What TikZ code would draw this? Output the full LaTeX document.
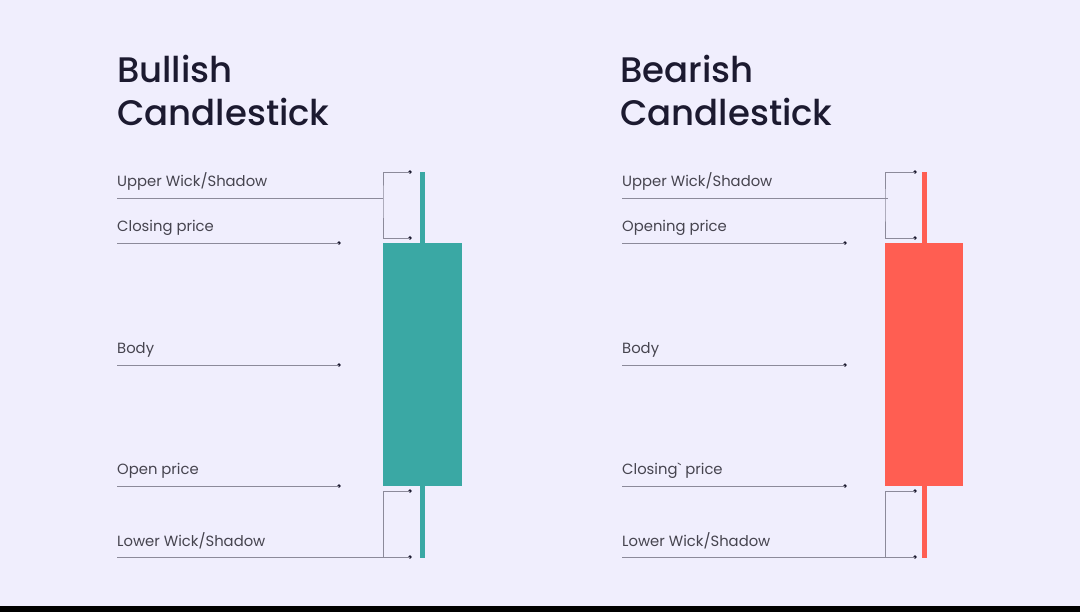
\documentclass[tikz,border=0pt]{standalone}
\usepackage{fontspec}
\setmainfont{Poppins}
\newfontfamily\labfont{Poppins}
\newfontfamily\titlefont{Poppins}[UprightFont=* Medium]
\definecolor{bg}{HTML}{F0EEFD}
\definecolor{ink}{HTML}{1C1A30}
\definecolor{lbl}{HTML}{46444F}
\definecolor{rule}{HTML}{8C8A9A}
\definecolor{bull}{HTML}{3AA8A4}
\definecolor{bear}{HTML}{FF5E52}
\tikzset{
  title/.style={anchor=base west, inner sep=0pt, text=ink, font=\titlefont\fontsize{35.5}{40}\selectfont},
  lab/.style={anchor=base west, inner sep=0pt, text=lbl, font=\labfont\fontsize{14.8}{16}\selectfont},
  guide/.style={draw=rule, line width=0.9pt},
  dot/.style={circle, fill=ink, inner sep=0pt, minimum size=3.6pt},
}
\begin{document}
\begin{tikzpicture}[x=1pt,y=-1pt]
\fill[bg] (0,0) rectangle (1080,612);
\fill[black] (0,606) rectangle (1080,612);
\useasboundingbox (0,0) rectangle (1080,612);

% ---------- Bullish ----------
\node[title] (bt1) at (117,83) {Bullish};
\node[title] (bt2) at (117,126) {Candlestick};
\node[lab] (bl1) at (117,187) {Upper Wick/Shadow};
\node[lab] (bl2) at (117,232) {Closing price};
\node[lab] (bl3) at (117,354) {Body};
\node[lab] (bl4) at (117,475) {Open price};
\node[lab] (bl5) at (117,546) {Lower Wick/Shadow};

\coordinate (bs1) at (117,198);
\coordinate (bs2) at (117,243);
\coordinate (bs3) at (117,365);
\coordinate (bs4) at (117,486);
\coordinate (bs5) at (117,557);
\coordinate (bj1) at (383,198);
\coordinate (bj5) at (383,557);
\node[dot] (bd2) at (339,243) {};
\node[dot] (bd3) at (339,365) {};
\node[dot] (bd4) at (339,486) {};
\node[dot] (bu1) at (410,172) {};
\node[dot] (bu2) at (410,238) {};
\node[dot] (bw1) at (410,491) {};
\node[dot] (bw2) at (410,557) {};

\fill[bull] (419.5,172) rectangle (424.5,558);
\fill[bull] (383,243) rectangle (462,486);

\draw[guide] (bs1) -- (bj1);
\draw[guide] (bu1.center) -| (bj1) |- (bu2.center);
\draw[guide] (bs2) -- (bd2.center);
\draw[guide] (bs3) -- (bd3.center);
\draw[guide] (bs4) -- (bd4.center);
\draw[guide] (bs5) -- (bw2.center);
\draw[guide] (bw1.center) -| (bj5);

% ---------- Bearish ----------
\node[title] (rt1) at (620,83) {Bearish};
\node[title] (rt2) at (620,126) {Candlestick};
\node[lab] (rl1) at (622,187) {Upper Wick/Shadow};
\node[lab] (rl2) at (622,232) {Opening price};
\node[lab] (rl3) at (622,354) {Body};
\node[lab] (rl4) at (622,475) {Closing` price};
\node[lab] (rl5) at (622,546) {Lower Wick/Shadow};

\coordinate (rs1) at (622,198);
\coordinate (rs2) at (622,243);
\coordinate (rs3) at (622,365);
\coordinate (rs4) at (622,486);
\coordinate (rs5) at (622,557);
\coordinate (rj1) at (888,198);
\coordinate (rk1) at (885,205);
\coordinate (rj5) at (885,557);
\node[dot] (rd2) at (845,243) {};
\node[dot] (rd3) at (845,365) {};
\node[dot] (rd4) at (845,486) {};
\node[dot] (ru1) at (915,172) {};
\node[dot] (ru2) at (915,238) {};
\node[dot] (rw1) at (915,491) {};
\node[dot] (rw2) at (915,557) {};

\fill[bear] (922,172) rectangle (927,558);
\fill[bear] (885,243) rectangle (963,486);

\draw[guide] (rs1) -- (rj1);
\draw[guide] (ru1.center) -| (rk1) |- (ru2.center);
\draw[guide] (rs2) -- (rd2.center);
\draw[guide] (rs3) -- (rd3.center);
\draw[guide] (rs4) -- (rd4.center);
\draw[guide] (rs5) -- (rw2.center);
\draw[guide] (rw1.center) -| (rj5);
\end{tikzpicture}
\end{document}
